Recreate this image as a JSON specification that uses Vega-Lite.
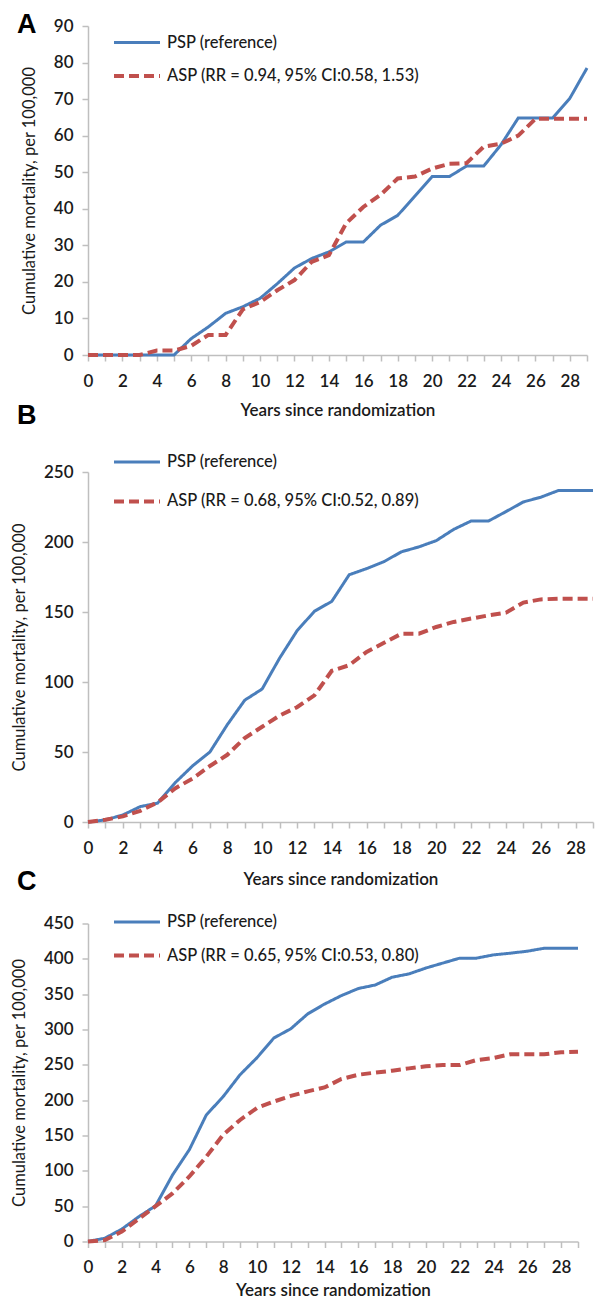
{
  "$schema": "https://vega.github.io/schema/vega-lite/v6.json",
  "background": "white",
  "padding": {"left": 11, "top": 11, "right": 2, "bottom": 5},
  "config": {
    "view": {"stroke": null},
    "font": "Lato",
    "axis": {"grid": false, "domainColor": "#BFBFBF", "domainWidth": 1.5, "tickColor": "#BFBFBF", "tickWidth": 1.5, "tickSize": 6, "labelFont": "Lato", "labelFontSize": 17, "labelFontWeight": 600, "labelColor": "#1A1A1A", "titleFont": "Lato", "titleColor": "#1A1A1A", "titleFontSize": 16.5},
    "axisX": {"labelPadding": 12, "titleFontWeight": 600, "titleFontSize": 17, "titlePadding": 13, "labelAngle": 0, "labelFlush": false},
    "axisY": {"labelPadding": 9, "titleFontWeight": 400, "titlePadding": 16},
    "legend": {"orient": "none", "legendX": 24, "title": null, "symbolType": "stroke", "symbolSize": 2116, "symbolStrokeWidth": 3, "labelOffset": 5, "rowPadding": 0, "labelFontSize": 16.5, "labelColor": "#1A1A1A", "labelFont": "Lato", "labelFontWeight": 500, "labelLimit": 400},
    "title": {"font": "Liberation Sans", "fontSize": 27, "fontWeight": "bold", "color": "#000000", "anchor": "start", "frame": "group"}
  },
  "datasets": {
    "A": [
      {"year": 0, "PSP": 0, "ASP": 0},
      {"year": 1, "PSP": 0, "ASP": 0},
      {"year": 2, "PSP": 0, "ASP": 0},
      {"year": 3, "PSP": 0, "ASP": 0},
      {"year": 4, "PSP": 0, "ASP": 1.2},
      {"year": 5, "PSP": 0, "ASP": 1.2},
      {"year": 6, "PSP": 4.5, "ASP": 2.5},
      {"year": 7, "PSP": 7.7, "ASP": 5.5},
      {"year": 8, "PSP": 11.4, "ASP": 5.5},
      {"year": 9, "PSP": 13.2, "ASP": 12.5},
      {"year": 10, "PSP": 15.5, "ASP": 14.5},
      {"year": 11, "PSP": 19.5, "ASP": 17.7},
      {"year": 12, "PSP": 23.8, "ASP": 20.5},
      {"year": 13, "PSP": 26.4, "ASP": 25.5},
      {"year": 14, "PSP": 28.2, "ASP": 27.3},
      {"year": 15, "PSP": 30.9, "ASP": 36},
      {"year": 16, "PSP": 30.9, "ASP": 40.5},
      {"year": 17, "PSP": 35.5, "ASP": 43.8},
      {"year": 18, "PSP": 38.2, "ASP": 48.3},
      {"year": 19, "PSP": 43.5, "ASP": 48.8},
      {"year": 20, "PSP": 48.8, "ASP": 51},
      {"year": 21, "PSP": 48.8, "ASP": 52.3},
      {"year": 22, "PSP": 51.7, "ASP": 52.5},
      {"year": 23, "PSP": 51.7, "ASP": 57},
      {"year": 24, "PSP": 57.5, "ASP": 57.8},
      {"year": 25, "PSP": 64.8, "ASP": 60},
      {"year": 26, "PSP": 64.8, "ASP": 64.6},
      {"year": 27, "PSP": 64.8, "ASP": 64.6},
      {"year": 28, "PSP": 70.2, "ASP": 64.6},
      {"year": 29, "PSP": 78.5, "ASP": 64.6}
    ],
    "B": [
      {"year": 0, "PSP": 0, "ASP": 0},
      {"year": 1, "PSP": 1.5, "ASP": 1.6},
      {"year": 2, "PSP": 5, "ASP": 4},
      {"year": 3, "PSP": 11, "ASP": 8},
      {"year": 4, "PSP": 13.5, "ASP": 14},
      {"year": 5, "PSP": 28, "ASP": 24},
      {"year": 6, "PSP": 40, "ASP": 31},
      {"year": 7, "PSP": 50, "ASP": 40},
      {"year": 8, "PSP": 69.5, "ASP": 48},
      {"year": 9, "PSP": 87, "ASP": 60},
      {"year": 10, "PSP": 95, "ASP": 68},
      {"year": 11, "PSP": 117, "ASP": 76},
      {"year": 12, "PSP": 136.5, "ASP": 82},
      {"year": 13, "PSP": 150.5, "ASP": 90.5},
      {"year": 14, "PSP": 157.6, "ASP": 108},
      {"year": 15, "PSP": 176.6, "ASP": 112},
      {"year": 16, "PSP": 181, "ASP": 121.5},
      {"year": 17, "PSP": 186, "ASP": 128},
      {"year": 18, "PSP": 193, "ASP": 134.5},
      {"year": 19, "PSP": 196.5, "ASP": 134.5},
      {"year": 20, "PSP": 201, "ASP": 139.3},
      {"year": 21, "PSP": 209, "ASP": 142.9},
      {"year": 22, "PSP": 215, "ASP": 145.3},
      {"year": 23, "PSP": 215, "ASP": 147.6},
      {"year": 24, "PSP": 221.7, "ASP": 149.5},
      {"year": 25, "PSP": 228.6, "ASP": 156.7},
      {"year": 26, "PSP": 232, "ASP": 159},
      {"year": 27, "PSP": 236.7, "ASP": 159.5},
      {"year": 28, "PSP": 236.7, "ASP": 159.5},
      {"year": 29, "PSP": 236.7, "ASP": 159.5}
    ],
    "C": [
      {"year": 0, "PSP": 0, "ASP": 0},
      {"year": 1, "PSP": 4.7, "ASP": 2},
      {"year": 2, "PSP": 17.5, "ASP": 14},
      {"year": 3, "PSP": 35, "ASP": 32},
      {"year": 4, "PSP": 50.5, "ASP": 50},
      {"year": 5, "PSP": 94, "ASP": 68},
      {"year": 6, "PSP": 130, "ASP": 92},
      {"year": 7, "PSP": 179, "ASP": 120},
      {"year": 8, "PSP": 205, "ASP": 151},
      {"year": 9, "PSP": 236, "ASP": 172},
      {"year": 10, "PSP": 260, "ASP": 189},
      {"year": 11, "PSP": 288, "ASP": 198},
      {"year": 12, "PSP": 301, "ASP": 206},
      {"year": 13, "PSP": 322, "ASP": 212.5},
      {"year": 14, "PSP": 336, "ASP": 218},
      {"year": 15, "PSP": 348, "ASP": 230},
      {"year": 16, "PSP": 358, "ASP": 236},
      {"year": 17, "PSP": 363, "ASP": 239},
      {"year": 18, "PSP": 374, "ASP": 241.7},
      {"year": 19, "PSP": 378.7, "ASP": 245},
      {"year": 20, "PSP": 387, "ASP": 248},
      {"year": 21, "PSP": 394, "ASP": 249.7},
      {"year": 22, "PSP": 401, "ASP": 249.7},
      {"year": 23, "PSP": 401, "ASP": 256.8},
      {"year": 24, "PSP": 405.6, "ASP": 259.7},
      {"year": 25, "PSP": 408, "ASP": 265},
      {"year": 26, "PSP": 410.8, "ASP": 265},
      {"year": 27, "PSP": 415, "ASP": 265},
      {"year": 28, "PSP": 415, "ASP": 267.7},
      {"year": 29, "PSP": 415, "ASP": 268.6}
    ]
  },
  "bounds": "flush",
  "spacing": 117,
  "resolve": {"scale": {"x": "independent", "y": "independent", "color": "independent", "strokeDash": "independent", "strokeWidth": "independent"}, "legend": {"color": "independent", "strokeDash": "independent"}},
  "vconcat": [
    {
      "width": 499,
      "height": 329,
      "title": {"text": "A", "dx": -71, "offset": -22},
      "data": {"name": "A"},
      "transform": [{"fold": ["PSP", "ASP"], "as": ["series", "value"]}],
      "mark": {"type": "line", "clip": false},
      "encoding": {
        "x": {"field": "year", "type": "quantitative", "scale": {"domain": [0, 29], "nice": false}, "axis": {"title": "Years since randomization", "values": [0,1,2,3,4,5,6,7,8,9,10,11,12,13,14,15,16,17,18,19,20,21,22,23,24,25,26,27,28,29], "labelExpr": "datum.value % 2 == 0 ? datum.label : ''"}},
        "y": {"field": "value", "type": "quantitative", "scale": {"domain": [0, 90], "nice": false}, "axis": {"title": "Cumulative mortality, per 100,000", "values": [0,10,20,30,40,50,60,70,80,90]}},
        "color": {"field": "series", "type": "nominal", "scale": {"domain": ["PSP", "ASP"], "range": ["#4A7EBB", "#C0504D"]}, "legend": {"legendY": -8, "labelExpr": "datum.label == 'PSP' ? 'PSP (reference)' : 'ASP (RR = 0.94, 95% CI:0.58, 1.53)'"}},
        "strokeDash": {"field": "series", "type": "nominal", "scale": {"domain": ["PSP", "ASP"], "range": [[1, 0], [10, 5]]}, "legend": {"legendY": -8, "labelExpr": "datum.label == 'PSP' ? 'PSP (reference)' : 'ASP (RR = 0.94, 95% CI:0.58, 1.53)'"}},
        "strokeWidth": {"field": "series", "type": "nominal", "scale": {"domain": ["PSP", "ASP"], "range": [3, 4]}, "legend": null}
      }
    },
    {
      "bounds": "flush",
      "spacing": 101.5,
      "resolve": {"scale": {"x": "independent", "y": "independent", "color": "independent", "strokeDash": "independent", "strokeWidth": "independent"}, "legend": {"color": "independent", "strokeDash": "independent"}},
      "vconcat": [
        {
          "width": 505,
          "height": 350,
          "title": {"text": "B", "dx": -71, "offset": 7},
          "data": {"name": "B"},
          "transform": [{"fold": ["PSP", "ASP"], "as": ["series", "value"]}],
          "mark": {"type": "line", "clip": false},
          "encoding": {
            "x": {"field": "year", "type": "quantitative", "scale": {"domain": [0, 29], "nice": false}, "axis": {"title": "Years since randomization", "titlePadding": 15, "values": [0,1,2,3,4,5,6,7,8,9,10,11,12,13,14,15,16,17,18,19,20,21,22,23,24,25,26,27,28,29], "labelExpr": "datum.value % 2 == 0 ? datum.label : ''"}},
            "y": {"field": "value", "type": "quantitative", "scale": {"domain": [0, 250], "nice": false}, "axis": {"title": "Cumulative mortality, per 100,000", "values": [0,50,100,150,200,250]}},
            "color": {"field": "series", "type": "nominal", "scale": {"domain": ["PSP", "ASP"], "range": ["#4A7EBB", "#C0504D"]}, "legend": {"legendY": -34.6, "rowPadding": 6, "labelExpr": "datum.label == 'PSP' ? 'PSP (reference)' : 'ASP (RR = 0.68, 95% CI:0.52, 0.89)'"}},
            "strokeDash": {"field": "series", "type": "nominal", "scale": {"domain": ["PSP", "ASP"], "range": [[1, 0], [10, 5]]}, "legend": {"legendY": -34.6, "rowPadding": 6, "labelExpr": "datum.label == 'PSP' ? 'PSP (reference)' : 'ASP (RR = 0.68, 95% CI:0.52, 0.89)'"}},
            "strokeWidth": {"field": "series", "type": "nominal", "scale": {"domain": ["PSP", "ASP"], "range": [3, 4]}, "legend": null}
          }
        },
        {
          "width": 490,
          "height": 318,
          "title": {"text": "C", "dx": -71, "offset": 2},
          "data": {"name": "C"},
          "transform": [{"fold": ["PSP", "ASP"], "as": ["series", "value"]}],
          "mark": {"type": "line", "clip": false},
          "encoding": {
            "x": {"field": "year", "type": "quantitative", "scale": {"domain": [0, 29], "nice": false}, "axis": {"title": "Years since randomization", "titlePadding": 6.5, "values": [0,1,2,3,4,5,6,7,8,9,10,11,12,13,14,15,16,17,18,19,20,21,22,23,24,25,26,27,28,29], "labelExpr": "datum.value % 2 == 0 ? datum.label : ''"}},
            "y": {"field": "value", "type": "quantitative", "scale": {"domain": [0, 450], "nice": false}, "axis": {"title": "Cumulative mortality, per 100,000", "values": [0,50,100,150,200,250,300,350,400,450]}},
            "color": {"field": "series", "type": "nominal", "scale": {"domain": ["PSP", "ASP"], "range": ["#4A7EBB", "#C0504D"]}, "legend": {"legendY": -26, "labelExpr": "datum.label == 'PSP' ? 'PSP (reference)' : 'ASP (RR = 0.65, 95% CI:0.53, 0.80)'"}},
            "strokeDash": {"field": "series", "type": "nominal", "scale": {"domain": ["PSP", "ASP"], "range": [[1, 0], [10, 5]]}, "legend": {"legendY": -26, "labelExpr": "datum.label == 'PSP' ? 'PSP (reference)' : 'ASP (RR = 0.65, 95% CI:0.53, 0.80)'"}},
            "strokeWidth": {"field": "series", "type": "nominal", "scale": {"domain": ["PSP", "ASP"], "range": [3, 4]}, "legend": null}
          }
        }
      ]
    }
  ]
}
